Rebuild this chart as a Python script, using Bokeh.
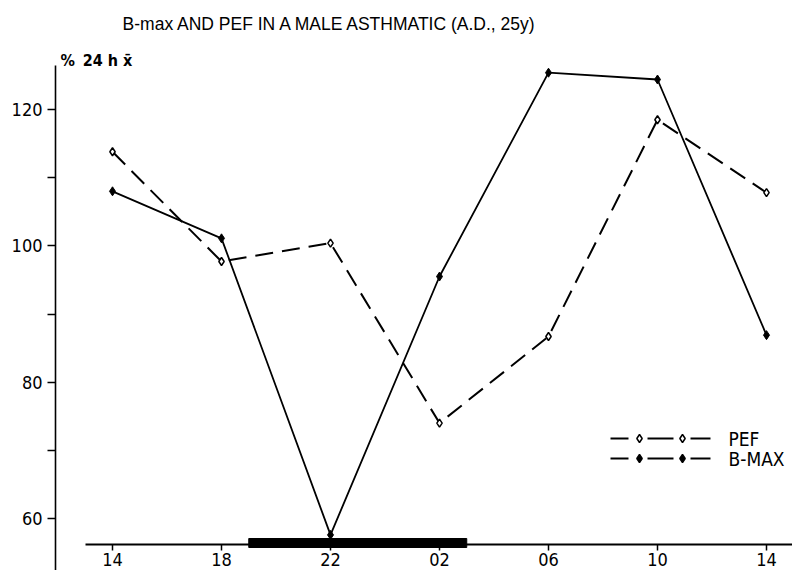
from bokeh.plotting import figure
from bokeh.models import Range1d, LinearAxis, FixedTicker, Label
from bokeh.embed import file_html
from bokeh.resources import INLINE

# ---- data ----
hours = [0, 4, 8, 12, 16, 20, 24]
hour_labels = ["14", "18", "22", "02", "06", "10", "14"]
pef = [113.8, 97.7, 100.4, 74.0, 86.7, 118.5, 107.8]
bmax = [108.0, 101.1, 57.6, 95.5, 125.4, 124.4, 86.9]
sleep_start = [5]
sleep_end = [13]
y_ticks = [60, 80, 100, 120]
y_minor = [70, 90, 110]
title_text = "B-max AND PEF IN A MALE ASTHMATIC (A.D., 25y)"
y_label = "%\u2009 24 h x\u0304"
series_names = ["PEF", "B-MAX"]

# ---- layout helpers (pixel -> data) ----
W, H = 792, 570
PX_PER_H = 27.25
X0_PX = 112
PX_PER_U = 6.817
Y120_PX = 109


def xd(px):
    return (px - X0_PX) / PX_PER_H


def yd(py):
    return 120 - (py - Y120_PX) / PX_PER_U


NUM_FONT = "'Liberation Sans Narrow', 'DejaVu Sans Condensed', 'Liberation Sans', sans-serif"

p = figure(width=W, height=H,
           x_range=Range1d(xd(0), xd(W)), y_range=Range1d(yd(H), yd(0)),
           output_backend="svg", toolbar_location=None, min_border=0,
           x_axis_type=None, y_axis_type=None)
p.outline_line_color = None
p.background_fill_color = "white"
p.border_fill_color = "white"

yaxis = LinearAxis(fixed_location=xd(55), bounds=(yd(H), yd(65)),
                   ticker=FixedTicker(ticks=y_ticks, minor_ticks=y_minor))
yaxis.axis_line_width = 1.6
yaxis.major_tick_out = 8
yaxis.major_tick_in = 0
yaxis.minor_tick_out = 8
yaxis.minor_tick_in = 0
yaxis.major_tick_line_width = 1.5
yaxis.minor_tick_line_width = 1.5
yaxis.major_label_text_font = NUM_FONT
yaxis.major_label_text_font_size = "18px"
yaxis.major_label_text_color = "black"
yaxis.major_label_standoff = 5
p.add_layout(yaxis, "left")

xaxis = LinearAxis(fixed_location=yd(544), bounds=(xd(85), xd(W)),
                   ticker=FixedTicker(ticks=hours, minor_ticks=[]),
                   major_label_overrides={h: l for h, l in zip(hours, hour_labels)})
xaxis.axis_line_width = 1.8
xaxis.major_tick_out = 6
xaxis.major_tick_in = 0
xaxis.major_tick_line_width = 1.5
xaxis.minor_tick_out = 0
xaxis.minor_tick_in = 0
xaxis.major_label_text_font = NUM_FONT
xaxis.major_label_text_font_size = "18px"
xaxis.major_label_text_color = "black"
xaxis.major_label_standoff = 2
p.add_layout(xaxis, "below")

# sleep bar
p.quad(left=sleep_start, right=sleep_end, bottom=[yd(547)], top=[yd(538)],
       fill_color="black", line_color="black")

# series
p.line(hours, bmax, line_color="black", line_width=1.8)
p.line(hours, pef, line_color="black", line_width=2, line_dash="18 9")
p.scatter(hours, pef, marker="diamond", size=8, fill_color="white",
          line_color="black", line_width=1.5)
p.scatter(hours, bmax, marker="diamond", size=9, fill_color="black",
          line_color="black")

# manual legend
for row_py, name, fill in [(438, series_names[0], "white"), (458, series_names[1], "black")]:
    yy = yd(row_py)
    p.segment(x0=[xd(610), xd(647), xd(690)], x1=[xd(628), xd(673), xd(710)],
              y0=[yy] * 3, y1=[yy] * 3, line_color="black", line_width=2)
    p.scatter(x=[xd(639), xd(682)], y=[yy, yy], marker="diamond", size=8,
              fill_color=fill, line_color="black", line_width=1.5)
    p.add_layout(Label(x=xd(728), y=yy, text=name, text_font=NUM_FONT,
                       text_font_size="19px", text_baseline="middle",
                       text_align="left", text_color="black"))

# title and y label
p.add_layout(Label(x=xd(330), y=yd(23), text=title_text, text_font="Liberation Sans",
                   text_font_size="17.5px", text_align="center",
                   text_baseline="middle", text_color="black"))
p.add_layout(Label(x=xd(60), y=yd(60), text=y_label, text_font=NUM_FONT,
                   text_font_size="16px", text_font_style="bold",
                   text_align="left", text_baseline="middle", text_color="black"))

open("out.html", "w").write(file_html(p, INLINE))
